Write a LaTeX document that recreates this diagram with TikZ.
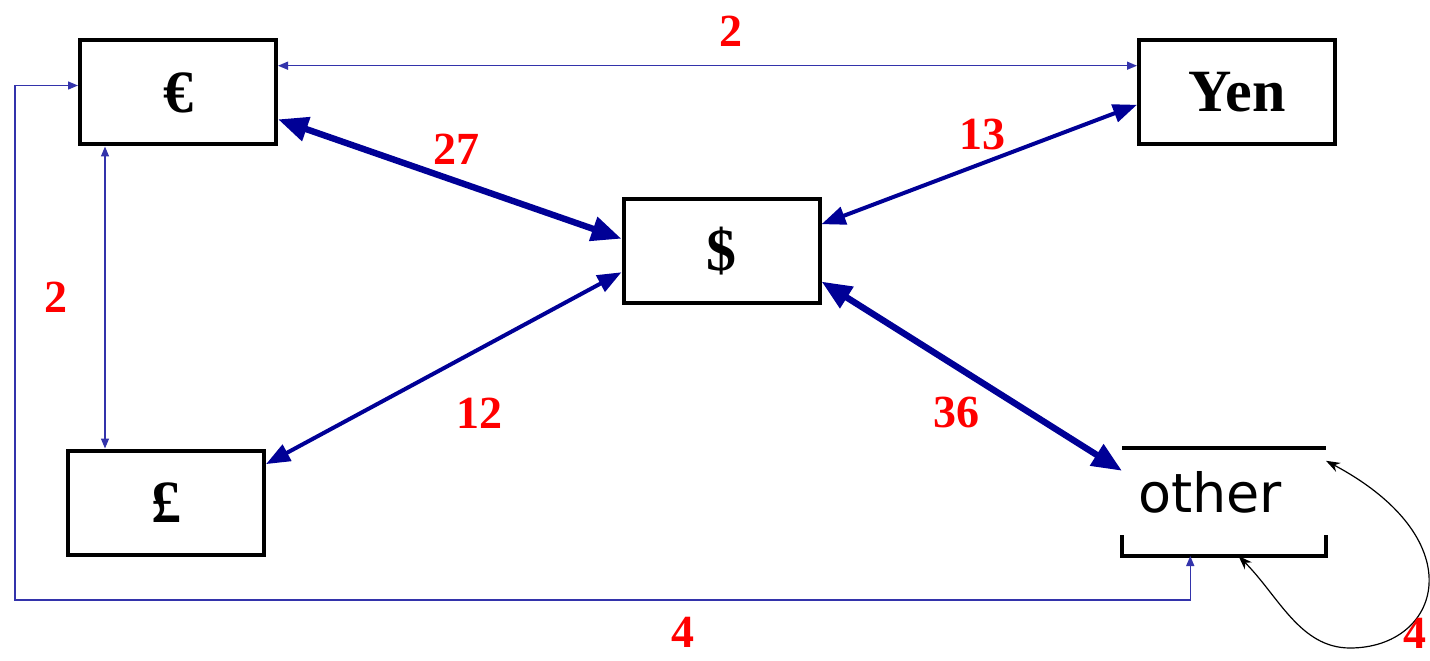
\documentclass[tikz,border=0pt]{standalone}
\usepackage{fontspec}
\setmainfont{Liberation Serif}
\newfontfamily\othfont{DejaVu Sans}
\usetikzlibrary{arrows.meta, calc}
\definecolor{fxnavy}{RGB}{0, 0, 150}
\definecolor{fxred}{RGB}{255, 0, 0}
\tikzset{
  curbox/.style={
    draw=black,
    line width=2pt,
    fill=white,
    minimum width=98pt,
    minimum height=52pt,
    inner sep=0pt,
    font=\fontsize{30}{30}\selectfont\bfseries
  },
  heavy/.style={
    <->,
    >={Triangle[length=15pt,width=12pt]},
    line width=3.2pt,
    draw=fxnavy
  },
  medium/.style={
    <->,
    >={Triangle[length=12pt,width=9pt]},
    line width=2pt,
    draw=fxnavy
  },
  light/.style={
    <->,
    >={Triangle[length=5pt,width=4pt]},
    line width=0.7pt,
    draw=fxnavy!80
  },
  selfloop/.style={
    <->,
    >={Stealth[length=7pt,width=5pt]},
    line width=0.6pt,
    draw=black
  },
  wt/.style={
    font=\fontsize{23}{23}\selectfont\bfseries,
    text=fxred,
    inner sep=0pt
  }
}

\begin{document}
\begin{tikzpicture}[x=0.5pt, y=0.5pt]
  \useasboundingbox (0,0) rectangle (1430,660);
  \node[curbox] (eur) at (178, 567.5) {€};
  \node[curbox] (yen) at (1237, 567.5) {Yen};
  \node[curbox] (usd) at (721.5, 409) {\$};
  \node[curbox] (gbp) at (166, 157.5) {£};
  \node[minimum width=102pt, minimum height=54pt, inner sep=0pt, outer sep=0pt,
        text width=86pt, align=left, text height=15pt, text depth=5pt,
        font=\othfont\fontsize{27}{27}\selectfont] (oth) at (1224, 158) {other};
  \draw[line width=2pt] (oth.north west) -- (oth.north east);
  \draw[line width=2pt] ($(oth.south west)+(0,21)$) |- (oth.south east) -- ++(0,21);

  \coordinate (lx) at (105, 0);
  \coordinate (lft) at (15, 60);
  \coordinate (lb) at (1350, 12);

  \path (eur.15) edge[light] node[wt, above=9.3pt, pos=0.527] (w1) {2} (yen.165)
        (eur.-15) edge[heavy] node[wt, above=6.8pt, pos=0.52] (w2) {27} (usd.173)
        (yen.-173) edge[medium] node[wt, above=5.8pt, pos=0.49] (w3) {13} (usd.15)
        (gbp.21) edge[medium] node[wt, below=23.3pt, pos=0.6] (w4) {12} (usd.-168)
        (usd.-17) edge[heavy] node[wt, below left=3.3pt, pos=0.56] (w5) {36} (oth.163.6)
        (eur.south -| lx) edge[light] node[wt, left=18.3pt] (w6) {2} (gbp.north -| lx);

  \draw[light] (eur.176) -| (lft) -| node[wt, below=8.3pt, pos=0.284] (w7) {4} (oth.-122);
  \draw[selfloop] (oth.-75) .. controls +(40,-40) and +(-50,0) .. (lb)
        .. controls +(90,0) and +(150,-80) .. (oth.22)
        node[wt, right=3.3pt, pos=0.2, yshift=1.5pt] (w8) {4};
\end{tikzpicture}
\end{document}
